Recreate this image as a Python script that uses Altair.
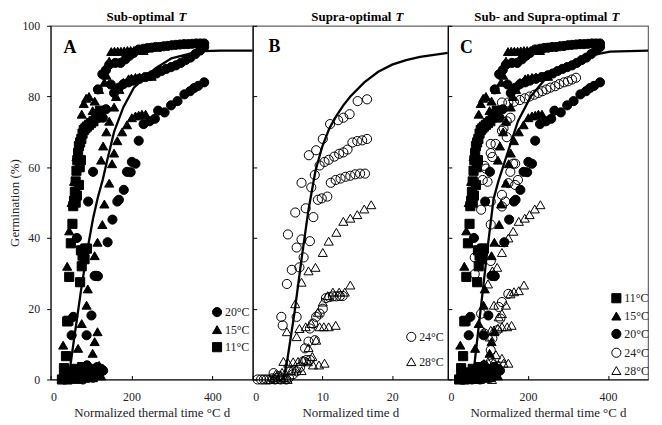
import altair as alt
import pandas as pd

FONT = "Liberation Serif"

# ---------------- Sub-optimal temperatures (normalized thermal time, °C d) ----------------
t11_x = [28, 33, 38, 42, 47, 52, 57, 62, 66, 70, 74, 78, 82, 86, 90, 95,
         33, 38, 41, 44, 46, 50, 54, 56, 58, 60, 62, 64, 66, 68, 70, 73, 76, 79, 82, 86, 90, 95, 100, 106, 112, 117, 122,
         73, 77, 79, 75, 81, 86, 84, 90,
         62, 65, 70, 72, 75]
t11_y = [0, 0.5, 1, 0, 2, 0.5, 1.5, 3, 0.5, 2, 1, 3.5, 2.5, 0.5, 3, 1.5,
         3.2, 6.6, 16.4, 16.6, 29, 38.5, 44, 49, 50.5, 53, 56, 59, 62, 64, 66, 67, 68, 69.5, 70.5, 71, 71.5, 72, 72.5, 73, 74, 75, 76,
         27.5, 32, 35, 36.5, 36.5, 37, 34, 37,
         50, 52, 55, 60, 62]

t15_x = [35, 45, 55, 65, 75, 85, 95, 105, 115, 125,
         31, 41, 46, 52, 58, 64, 70, 77, 82, 88, 95, 104, 109, 120, 133, 138, 145, 150, 158, 166, 174, 182, 190, 198, 206, 214, 222, 230,
         68, 77, 89, 92, 109, 116, 128, 133, 145, 152, 157, 165, 177, 189, 201, 210, 218, 226, 235,
         125, 130, 138, 145, 157, 162, 170, 180, 193, 200, 210, 220, 230, 240, 250,
         104, 109, 116, 120, 128]
t15_y = [0.5, 1, 2, 0, 1.5, 3, 2, 0.5, 3.5, 1,
         9.7, 32, 42, 50, 56, 63, 68, 75, 78, 79.5, 80, 76, 78.7, 82, 84, 86, 90, 92.7, 92.8, 92.8, 92.8, 92.9, 93, 93, 93, 93, 93, 93,
         8.8, 15.8, 21, 25.6, 35, 38.8, 43.8, 49.6, 55.5, 61, 64, 67.5, 70, 72, 74, 74.5, 74.7, 75, 75,
         62, 66, 70, 73, 77, 80, 82, 84, 85, 85.2, 85.4, 85.5, 85.6, 85.7, 85.7,
         7.4, 10.7, 13.5, 4, 3]

t20_x = [60, 65, 70, 75, 80, 85, 90, 95, 100, 105, 110, 115, 120, 125, 130,
         52, 56, 65, 77, 89, 93, 101, 105, 109, 113,
         117, 128, 137, 145, 160, 173, 185, 195, 205, 218, 230, 240, 250, 260, 270, 280, 290, 300, 310, 320, 330, 340, 350, 360, 370, 380,
         129, 137, 149, 157, 169, 180, 193, 205, 220, 235, 250, 262, 274, 286, 298, 310, 322, 334, 346, 358, 370, 380,
         117, 141, 153, 165, 169, 181, 189, 198, 201, 210, 218, 230, 245, 258, 266, 282, 298, 314, 331, 345, 355, 365, 380]
t20_y = [0.5, 2, 1, 3, 0, 2.5, 4, 1, 3, 0.5, 2, 3.5, 1.5, 3, 2.5,
         12.5, 17.7, 40, 36.3, 12.5, 50.3, 18.1, 58.7, 29.3, 29.3,
         82, 86.3, 87.5, 89, 89.5, 89.5, 90.5, 91.5, 92.3, 93.3, 93.5, 93.7, 93.8, 94, 94, 94.2, 94.3, 94.5, 94.6, 94.7, 94.8, 94.8, 94.9, 95, 95, 95,
         74, 76.4, 83.4, 81, 82.5, 83.5, 84, 84.5, 85, 85.5, 86, 86.5, 87.2, 87.8, 88.3, 88.8, 89.5, 90.3, 91, 92, 93, 94,
         29.2, 38.8, 45.2, 50.3, 50.8, 53.6, 58.7, 58.6, 61.5, 61, 67.5, 72.2, 73, 73.7, 76, 75.5, 77.5, 78.7, 80.6, 81.5, 82.4, 83, 84]

# fitted curve, panel A
curveA_x = [44, 60, 75, 90, 105, 117, 129, 140, 157, 180, 206, 234, 260, 299, 340, 380, 420, 500]
curveA_y = [0, 13, 25, 36, 45.5, 51.5, 56.5, 62, 70, 77, 82.5, 85.5, 88, 90.8, 92, 92.8, 93, 93]

# ---------------- Supra-optimal temperatures (normalized time, d) ----------------
b24_x = [0.7, 1.2, 1.6, 2.0, 2.4, 2.8, 3.2, 3.6, 4.0, 4.4, 4.8, 5.2, 3.0, 3.8,
         4.1, 4.3, 4.9, 5.05, 5.6, 6.1, 6.3, 6.3, 6.7, 7.0, 7.0, 7.3, 7.6, 8.05, 8.2, 8.4, 8.7, 8.9, 9.1, 10.05, 11.1, 12.25, 13.0, 13.9, 15.05, 16.4,
         9.6, 10.3, 10.9, 11.7, 12.4, 13.0, 13.6, 14.3, 15.0, 15.7, 16.4,
         9.35, 9.9, 10.7, 11.2, 11.9, 12.6, 13.3, 14.0, 14.7, 15.4, 16.1,
         7.5, 8.0, 8.2, 8.65, 8.9, 9.1, 9.6, 10.05, 10.5, 11.0, 11.5, 12.0, 12.5, 12.9,
         5.5, 5.8, 6.3, 6.8, 7.25, 7.7, 8.2]
b24_y = [0, 0, 0, 0, 0, 0.3, 0, 0.5, 0, 0.3, 0, 0.5, 1.8, 1,
         17.7, 15.3, 27, 41, 31, 47.2, 37.3, 17.7, 31.7, 55.6, 39.6, 34.5, 48.4, 63.4, 39.1, 54.3, 45.9, 57.8, 64.8, 68, 72.2, 73.3, 74, 75, 78.7, 79.2,
         60.5, 61.5, 62.1, 63, 63.8, 64.2, 65, 67, 67.4, 67.6, 68,
         50.8, 51.2, 51.7, 55.6, 56.4, 56.8, 57.3, 57.6, 58, 58.2, 58.2,
         8.8, 10.7, 14.4, 15.8, 11.1, 17.7, 18.6, 20, 23, 23.3, 23.5, 23.5, 23.6, 23.6,
         2.5, 1.5, 2.3, 3.5, 5.1, 5.5, 5.5]

b28_x = [2.5, 3.0, 3.5, 4.0, 4.5, 5.0, 3.3, 4.2,
         4.9, 6.1, 6.3, 7.0, 8.0, 9.0, 10.05, 10.9, 12.0, 13.0, 14.0, 15.0, 16.0, 17.0,
         6.7, 7.6, 8.4, 9.35, 10.05, 10.75, 11.5, 12.4, 13.2, 14.0,
         8.0, 9.1, 9.6, 10.2, 10.9, 11.9,
         4.4, 5.1, 5.8, 6.5, 7.2, 7.9, 8.55, 8.65, 9.5, 10.3, 5.5, 6.2, 7.0]
b28_y = [0, 0.5, 0, 1, 0.5, 0, 1.5, 2,
         13.5, 21.4, 12.1, 27.5, 30.7, 31.7, 35.9, 39.1, 41.6, 44.7, 45.6, 46.6, 48.2, 49.4,
         14.4, 14.9, 15.8, 19, 21.9, 23.7, 24.7, 24.7, 24.7, 26.7,
         9, 11.1, 14.9, 14.9, 14.9, 15.3,
         5.1, 4.6, 5, 5.1, 5.5, 5, 6.5, 4.1, 4.1, 4.6, 2.5, 3, 2.5]

curveB_x = [4.4, 5, 6, 7, 8, 9, 10, 11, 12, 13, 14, 16, 18, 20, 22, 24, 26, 28]
curveB_y = [0, 6, 19, 34, 48, 59, 66, 71, 74.5, 77.5, 80, 84, 87, 89, 90.3, 91.2, 91.8, 92.3]

# ---------------- Sub- and supra-optimal (normalized thermal time, °C d) ----------------
c24_x = [40, 50, 60, 70, 80, 90, 100, 110, 115,
         67, 67, 83, 83, 87, 91, 91, 95, 99, 107, 107, 107, 107, 107, 107, 111, 111, 119, 123, 127, 127, 131, 135, 135, 135,
         135, 135, 139, 143, 147, 147, 151, 151, 151, 156, 156, 163, 168, 168, 175,
         165, 180, 192, 204, 216, 226, 236, 246, 256, 268, 278, 290, 300, 310, 320,
         100, 108, 115]
c24_y = [0, 0.5, 0, 1, 0.5, 1.5, 0.5, 2, 1,
         29.8, 34.5, 18.6, 48, 56.4, 13, 60.4, 59.6, 55.9, 8.3, 33.5, 43.8, 50.3, 64, 66.6, 11.6, 62.9, 66.6, 13.9, 20.5, 76, 17.2, 21.9, 48.9, 52.2,
         70.3, 78.3, 71, 50.3, 68.5, 73, 24.2, 55.5, 78.3, 58.7, 74, 61, 55, 61, 56.4,
         78.5, 79, 79.5, 80, 80.5, 81, 81.5, 82, 82.5, 82.9, 83.5, 84, 84.3, 84.8, 85.3,
         3, 4.5, 3.5]

c28_x = [60, 70, 80, 90, 100, 110,
         90, 100, 105, 111, 115, 123, 135, 139, 151, 163, 177, 192, 204, 217, 231,
         115, 125, 135, 145, 156, 165, 177, 190,
         107, 127, 135, 148, 159,
         90, 100, 115, 127, 139, 151, 120, 135]
c28_y = [0, 0.5, 0, 1, 0.5, 0,
         13.5, 27, 12, 30.7, 21, 31.7, 35.9, 38.7, 40, 41.9, 44.7, 45.6, 46.6, 48.2, 49.4,
         14, 14.5, 18.6, 21, 24.2, 24.8, 25.1, 26.7,
         13.9, 17.7, 14.9, 14.9, 15.3,
         4.5, 5, 5.1, 4.1, 4.6, 4.6, 7, 6]

curveC_x = [62, 75, 88, 100, 114, 126, 146, 175, 207, 240, 280, 320, 360, 405, 500]
curveC_y = [0, 13, 26, 38, 51, 56, 63, 73, 80, 84.5, 88, 90.3, 91.7, 92.7, 93]

Y_TICKS = [0, 20, 40, 60, 80, 100]
TXT = "#222"
INWARD = {"expr": "-4"}


def frame(xs, ys, label):
    return pd.DataFrame({"x": xs, "y": ys, "T": label})


def panel(df, cx, cy, xdom, xvals, xtitle, show_y, order, shapes, fills,
          leg_x, leg_y, row_pad, letter, letter_x, letter_y,
          title_main, title_main_x, title_t_x, width):
    xenc = alt.X("x:Q", scale=alt.Scale(domain=xdom, nice=False, zero=False),
                 axis=alt.Axis(values=xvals, title=xtitle, grid=False, ticks=True, tickSize=INWARD,
                               labelPadding=16, titlePadding=4, format="d",
                               labelFont=FONT, titleFont=FONT, labelFontSize=12, titleFontSize=13,
                               labelColor=TXT, titleColor=TXT, titleFontWeight="normal"))
    if show_y:
        yaxis = alt.Axis(values=Y_TICKS, title="Germination (%)", grid=False, tickSize=4,
                         labelPadding=7, titlePadding=0,
                         labelFont=FONT, titleFont=FONT, labelFontSize=12, titleFontSize=13,
                         labelColor=TXT, titleColor=TXT, titleFontWeight="normal")
    else:
        yaxis = alt.Axis(values=Y_TICKS, title=None, labels=False, ticks=True, tickSize=INWARD,
                         grid=False)
    yenc = alt.Y("y:Q", scale=alt.Scale(domain=[0, 100], nice=False), axis=yaxis)

    leg = alt.Legend(orient="none", legendX=leg_x, legendY=leg_y, title=None, padding=0,
                     rowPadding=row_pad, symbolSize=85, symbolStrokeWidth=1,
                     labelFontSize=12, labelFont=FONT, labelOffset=2, labelColor=TXT)

    pts = alt.Chart(df).mark_point(filled=True, strokeWidth=1, size=85, opacity=1).encode(
        x=xenc, y=yenc,
        shape=alt.Shape("T:N", scale=alt.Scale(domain=order, range=shapes), legend=leg),
        fill=alt.Fill("T:N", scale=alt.Scale(domain=order, range=fills), legend=leg),
        stroke=alt.Stroke("T:N", scale=alt.Scale(domain=order, range=["black"] * len(order)), legend=leg),
    )
    line = alt.Chart(pd.DataFrame({"x": cx, "y": cy})).mark_line(
        color="black", strokeWidth=2.3).encode(x=xenc, y=yenc)

    let = alt.Chart(pd.DataFrame({"x": [letter_x], "y": [letter_y], "lbl": [letter]})).mark_text(
        font=FONT, fontWeight="bold", fontSize=18, align="center", baseline="middle", color="black"
    ).encode(x=xenc, y=yenc, text="lbl:N")

    t1 = alt.Chart(pd.DataFrame({"t": [title_main]})).mark_text(
        font=FONT, fontWeight="bold", fontSize=13, align="right", baseline="middle", color="black"
    ).encode(text="t:N", x=alt.value(title_main_x), y=alt.value(-9))
    t2 = alt.Chart(pd.DataFrame({"t": ["T"]})).mark_text(
        font=FONT, fontWeight="bold", fontStyle="italic", fontSize=13, align="left",
        baseline="middle", color="black"
    ).encode(text="t:N", x=alt.value(title_t_x), y=alt.value(-9))

    return alt.layer(pts, line, let, t1, t2).properties(width=width, height=357)


dfA = pd.concat([frame(t11_x, t11_y, "11°C"), frame(t15_x, t15_y, "15°C"), frame(t20_x, t20_y, "20°C")])
dfB = pd.concat([frame(b24_x, b24_y, "24°C"), frame(b28_x, b28_y, "28°C")])
dfC = pd.concat([frame(t11_x, t11_y, "11°C"), frame(t15_x, t15_y, "15°C"), frame(t20_x, t20_y, "20°C"),
                 frame(c24_x, c24_y, "24°C"), frame(c28_x, c28_y, "28°C")])

pA = panel(dfA, curveA_x, curveA_y, [0, 500], [0, 200, 400], "Normalized thermal time  °C d", True,
           ["20°C", "15°C", "11°C"], ["circle", "triangle-up", "square"], ["black", "black", "black"],
           162, 283, 4.7, "A", 48, 93.6, "Sub-optimal", 125, 129, 204)
pB = panel(dfB, curveB_x, curveB_y, [0, 28], [0, 10, 20], "Normalized time  d", False,
           ["24°C", "28°C"], ["circle", "triangle-up"], ["transparent", "transparent"],
           154, 308, 12, "B", 3.1, 94.1, "Supra-optimal", 140, 144, 197)
pC = panel(dfC, curveC_x, curveC_y, [0, 500], [0, 200, 400], "Normalized thermal time  °C d", False,
           ["11°C", "15°C", "20°C", "24°C", "28°C"],
           ["square", "triangle-up", "circle", "circle", "triangle-up"],
           ["black", "black", "black", "transparent", "transparent"],
           164, 269, 5, "C", 46, 93.6, "Sub- and Supra-optimal", 161, 165, 202)

chart = alt.hconcat(pA, pB, pC, spacing=0, bounds="flush").resolve_scale(
    x="independent", y="independent", shape="independent", fill="independent", stroke="independent"
).resolve_legend(shape="independent", fill="independent", stroke="independent").properties(
    padding=0
).configure_view(
    stroke="#666", strokeWidth=1.2
).configure_axis(
    domainColor="black", domainWidth=1, tickColor="black"
)

chart.save("out.html", embed_options={"renderer": "svg", "actions": False})
